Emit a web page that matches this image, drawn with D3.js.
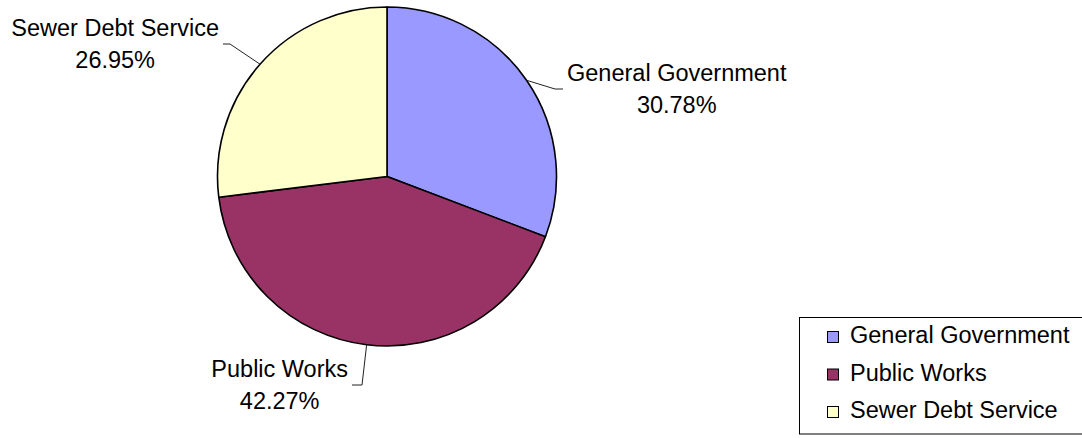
<!DOCTYPE html>
<html>
<head>
<meta charset="utf-8">
<script src="https://cdn.jsdelivr.net/npm/d3@7"></script>
<style>
  html, body { margin: 0; padding: 0; background: #fff; }
  svg { display: block; font-family: "Liberation Sans", Arial, sans-serif; }
</style>
</head>
<body>
<svg id="chart" width="1082" height="438"></svg>
<script>
// Expenditure shares by function
const categories = ["General Government", "Public Works", "Sewer Debt Service"];
const shares = [30.78, 42.27, 26.95];
const colors = ["#9999FF", "#993366", "#FFFFCC"];

const W = 1082, H = 438;
const cx = 387, cy = 176.5, R = 169.5;
const fontSize = 23.5;

const svg = d3.select("#chart");

const data = categories.map((c, i) => ({ name: c, value: shares[i], color: colors[i] }));

const pie = d3.pie().value(d => d.value).sort(null);
const arcs = pie(data);
const arc = d3.arc().innerRadius(0).outerRadius(R);
const rimArc = d3.arc().innerRadius(R).outerRadius(R);

const g = svg.append("g").attr("transform", `translate(${cx},${cy})`);

g.selectAll("path.slice")
  .data(arcs)
  .enter().append("path")
  .attr("class", "slice")
  .attr("d", arc)
  .attr("fill", d => d.data.color)
  .attr("stroke", "#000")
  .attr("stroke-width", 1.6)
  .attr("stroke-linejoin", "round");

// Leader line elbows (relative to pie centre) and horizontal tails
const leaders = [
  { ex: 168, ey: -87.5, tail: 8 },
  { ex: 25 * -1, ey: 208.5, tail: -10 },
  { ex: -157, ey: -132.5, tail: -7 }
];

const fmt = v => v.toFixed(2) + "%";

arcs.forEach((a, i) => {
  const [sx, sy] = rimArc.centroid(a);
  const L = leaders[i];
  const endX = L.ex + L.tail, endY = L.ey;
  g.append("polyline")
    .attr("points", `${sx},${sy} ${L.ex},${L.ey} ${endX},${endY}`)
    .attr("fill", "none")
    .attr("stroke", "#222")
    .attr("stroke-width", 1);

  const lbl = g.append("g");
  const t1 = lbl.append("text")
    .attr("font-size", fontSize)
    .attr("text-anchor", "middle")
    .attr("fill", "#000")
    .text(a.data.name);
  const t2 = lbl.append("text")
    .attr("font-size", fontSize)
    .attr("text-anchor", "middle")
    .attr("fill", "#000")
    .text(fmt(a.data.value));
  const w = Math.max(t1.node().getComputedTextLength(), t2.node().getComputedTextLength());
  const centerX = L.tail > 0 ? endX + 4 + w / 2 : endX - 4 - w / 2;
  t1.attr("x", centerX).attr("y", endY - 8.5);
  t2.attr("x", centerX).attr("y", endY + 24);
});

// Legend
const legend = svg.append("g");
legend.append("rect")
  .attr("x", 799.5).attr("y", 317.5)
  .attr("width", 300).attr("height", 116.5)
  .attr("fill", "#fff")
  .attr("stroke", "#000")
  .attr("stroke-width", 1);

const rowY = d3.scalePoint().domain(categories).range([343, 418]);

const rows = legend.selectAll("g.row")
  .data(data)
  .enter().append("g")
  .attr("class", "row")
  .attr("transform", d => `translate(0,${rowY(d.name)})`);

rows.append("rect")
  .attr("x", 827.5).attr("y", -11.5)
  .attr("width", 11).attr("height", 11)
  .attr("fill", d => d.color)
  .attr("stroke", "#000")
  .attr("stroke-width", 1);

rows.append("text")
  .attr("x", 850)
  .attr("y", 0)
  .attr("font-size", fontSize)
  .attr("fill", "#000")
  .text(d => d.name);
</script>
</body>
</html>
